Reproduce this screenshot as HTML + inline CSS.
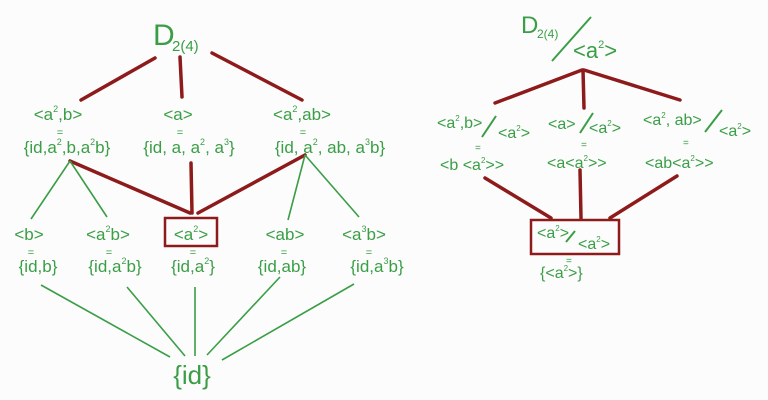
<!DOCTYPE html>
<html><head><meta charset="utf-8"><style>
html,body{margin:0;padding:0;background:#fcfcfc;}
svg{display:block;}
text{font-family:"Liberation Sans",sans-serif;fill:#3a9e46;}
</style></head><body>
<svg width="768" height="400" viewBox="0 0 768 400" xmlns="http://www.w3.org/2000/svg">
<rect width="768" height="400" fill="#fcfcfc"/>
<g stroke="#8e1b1b" stroke-width="3.5" stroke-linecap="round" fill="none">
<line x1="155" y1="58" x2="81" y2="100"/>
<line x1="180" y1="57" x2="182" y2="97"/>
<line x1="212" y1="53" x2="302" y2="100"/>
<line x1="70" y1="161" x2="190" y2="213"/>
<line x1="191" y1="163" x2="192" y2="213"/>
<line x1="305" y1="155" x2="198" y2="213"/>
<rect x="165" y="218" width="52" height="28" stroke-width="2.5"/>
<line x1="582" y1="70" x2="495" y2="103"/>
<line x1="583" y1="70" x2="584" y2="108"/>
<line x1="584" y1="70" x2="680" y2="100"/>
<line x1="485" y1="178" x2="551" y2="218"/>
<line x1="580" y1="170" x2="581" y2="218"/>
<line x1="677" y1="176" x2="610" y2="218"/>
<rect x="531" y="220" width="88" height="34" stroke-width="2.5"/>
</g>
<g stroke="#3a9e46" stroke-width="1.6" fill="none">
<line x1="70" y1="161" x2="31" y2="219"/>
<line x1="70" y1="161" x2="107" y2="217"/>
<line x1="305" y1="155" x2="288" y2="220"/>
<line x1="305" y1="155" x2="359" y2="217"/>
<line x1="41" y1="285" x2="170" y2="357"/>
<line x1="127" y1="287" x2="185" y2="356"/>
<line x1="195" y1="287" x2="195" y2="356"/>
<line x1="280" y1="277" x2="207" y2="355"/>
<line x1="354" y1="284" x2="222" y2="360"/>
<line x1="591" y1="17" x2="552" y2="61" stroke-width="2"/>
<line x1="496" y1="116" x2="482" y2="137" stroke-width="2"/>
<line x1="593" y1="113" x2="580" y2="133" stroke-width="2"/>
<line x1="722" y1="110" x2="705" y2="132" stroke-width="2"/>
<line x1="575" y1="231" x2="566" y2="242" stroke-width="2"/>
</g>
<!-- left -->
<text x="153" y="45" font-size="30">D</text>
<text x="172" y="51" font-size="15">2(4)</text>
<g font-size="17" text-anchor="middle">
<text x="58" y="120">&lt;a<tspan font-size="9" dy="-8">2</tspan><tspan dy="8">,b&gt;</tspan></text>
<text x="178" y="120">&lt;a&gt;</text>
<text x="302" y="120">&lt;a<tspan font-size="9" dy="-8">2</tspan><tspan dy="8">,ab&gt;</tspan></text>
<text x="60" y="136" font-size="11">=</text>
<text x="180" y="136" font-size="11">=</text>
<text x="303" y="136" font-size="11">=</text>
<text x="67" y="153">{id,a<tspan font-size="9" dy="-8">2</tspan><tspan dy="8">,b,a</tspan><tspan font-size="9" dy="-8">2</tspan><tspan dy="8">b}</tspan></text>
<text x="189" y="153">{id, a, a<tspan font-size="9" dy="-8">2</tspan><tspan dy="8">, a</tspan><tspan font-size="9" dy="-8">3</tspan><tspan dy="8">}</tspan></text>
<text x="330" y="153">{id, a<tspan font-size="9" dy="-8">2</tspan><tspan dy="8">, ab, a</tspan><tspan font-size="9" dy="-8">3</tspan><tspan dy="8">b}</tspan></text>
<text x="29" y="240">&lt;b&gt;</text>
<text x="108" y="240">&lt;a<tspan font-size="9" dy="-8">2</tspan><tspan dy="8">b&gt;</tspan></text>
<text x="191" y="240">&lt;a<tspan font-size="9" dy="-8">2</tspan><tspan dy="8">&gt;</tspan></text>
<text x="285" y="240">&lt;ab&gt;</text>
<text x="364" y="240">&lt;a<tspan font-size="9" dy="-8">3</tspan><tspan dy="8">b&gt;</tspan></text>
<text x="31" y="256" font-size="11">=</text>
<text x="109" y="256" font-size="11">=</text>
<text x="193" y="256" font-size="11">=</text>
<text x="284" y="256" font-size="11">=</text>
<text x="369" y="256" font-size="11">=</text>
<text x="38" y="272">{id,b}</text>
<text x="115" y="272">{id,a<tspan font-size="9" dy="-8">2</tspan><tspan dy="8">b}</tspan></text>
<text x="193" y="272">{id,a<tspan font-size="9" dy="-8">2</tspan><tspan dy="8">}</tspan></text>
<text x="282" y="272">{id,ab}</text>
<text x="377" y="272">{id,a<tspan font-size="9" dy="-8">3</tspan><tspan dy="8">b}</tspan></text>
<text x="192" y="384" font-size="26">{id}</text>
</g>
<!-- right -->
<text x="521" y="33" font-size="24">D</text>
<text x="537" y="38" font-size="12">2(4)</text>
<text x="573" y="58" font-size="22">&lt;a<tspan font-size="11" dy="-10">2</tspan><tspan dy="10">&gt;</tspan></text>
<g font-size="16">
<text x="437" y="128">&lt;a<tspan font-size="8" dy="-7">2</tspan><tspan dy="7">,b&gt;</tspan></text>
<text x="498" y="138">&lt;a<tspan font-size="8" dy="-7">2</tspan><tspan dy="7">&gt;</tspan></text>
<text x="548" y="129">&lt;a&gt;</text>
<text x="589" y="133">&lt;a<tspan font-size="8" dy="-7">2</tspan><tspan dy="7">&gt;</tspan></text>
<text x="643" y="125">&lt;a<tspan font-size="8" dy="-7">2</tspan><tspan dy="7">, ab&gt;</tspan></text>
<text x="719" y="136">&lt;a<tspan font-size="8" dy="-7">2</tspan><tspan dy="7">&gt;</tspan></text>
<text x="475" y="151" font-size="10">=</text>
<text x="581" y="148" font-size="10">=</text>
<text x="683" y="146" font-size="10">=</text>
<text x="440" y="170">&lt;b &lt;a<tspan font-size="8" dy="-7">2</tspan><tspan dy="7">&gt;&gt;</tspan></text>
<text x="547" y="168">&lt;a&lt;a<tspan font-size="8" dy="-7">2</tspan><tspan dy="7">&gt;&gt;</tspan></text>
<text x="645" y="168">&lt;ab&lt;a<tspan font-size="8" dy="-7">2</tspan><tspan dy="7">&gt;&gt;</tspan></text>
<text x="537" y="238">&lt;a<tspan font-size="8" dy="-7">2</tspan><tspan dy="7">&gt;</tspan></text>
<text x="578" y="249">&lt;a<tspan font-size="8" dy="-7">2</tspan><tspan dy="7">&gt;</tspan></text>
<text x="566" y="264" font-size="10">=</text>
<text x="540" y="278">{&lt;a<tspan font-size="8" dy="-7">2</tspan><tspan dy="7">&gt;}</tspan></text>
</g>
</svg>
</body></html>
